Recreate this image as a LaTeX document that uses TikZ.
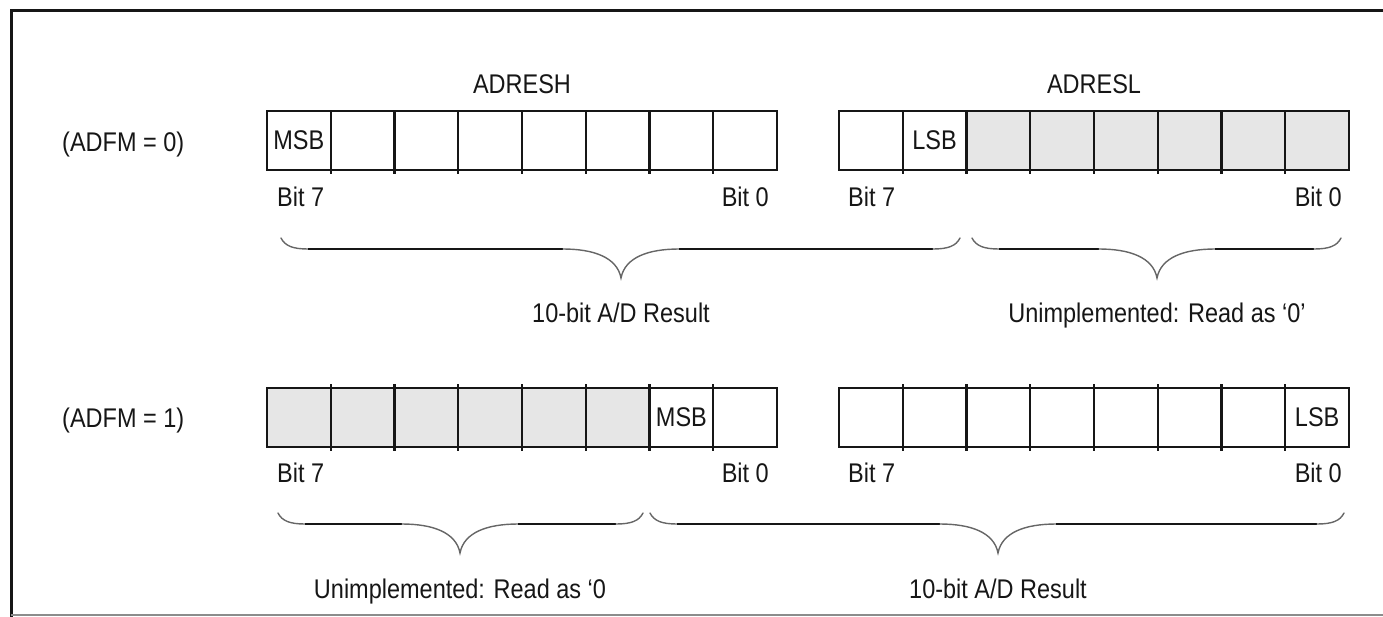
\documentclass[tikz,border=0pt]{standalone}
\usepackage{fontspec}
\setmainfont[FakeStretch=0.87]{Liberation Sans}
\definecolor{cellgray}{RGB}{230,230,230}
\definecolor{ink}{RGB}{22,22,22}

% curly brace: #1 left end, #2 right end, #3 tip x, #4 y of the curled ends
\newcommand\curlybrace[4]{%
  \pgfmathsetmacro\yl{#4+11}%
  \pgfmathsetmacro\yt{#4+40}%
  \draw[bracecurl] (#1,#4) .. controls (#1+4,\yl-3) and (#1+12,\yl) .. (#1+27,\yl);
  \draw[braceflat] (#1+27,\yl) -- (#3-58,\yl);
  \draw[bracecurl] (#3-58,\yl) .. controls (#3-28,\yl) and (#3-4,\yl+8) .. (#3,\yt)
                   .. controls (#3+4,\yl+8) and (#3+28,\yl) .. (#3+58,\yl);
  \draw[braceflat] (#3+58,\yl) -- (#2-27,\yl);
  \draw[bracecurl] (#2-27,\yl) .. controls (#2-12,\yl) and (#2-4,\yl-3) .. (#2,#4);
}

\begin{document}
\begin{tikzpicture}[x=1pt,y=-1pt,
  every node/.style={font=\fontsize{27}{32}\selectfont, text=ink, inner sep=0pt},
  cellnode/.style={minimum width=63.75pt, minimum height=59pt, outer sep=0pt},
  regline/.style={line width=2.4pt, draw=ink},
  frameline/.style={line width=3pt, draw=ink},
  braceflat/.style={line width=2.6pt, draw=ink},
  bracecurl/.style={line width=1.4pt, draw=black!60, line cap=round},
]
\useasboundingbox (0,0) rectangle (1383,616);

% outer frame
\draw[frameline] (11,620) -- (11,10) -- (1395,10);
\draw[line width=2pt, draw=black!45] (11,614.5) -- (1395,614.5);

% ---- ADFM = 0 ----
\node[anchor=base west] (adfm0) at (62,151.5) {(ADFM = 0)};
\node[anchor=base] (adresh) at (522,93.5) {ADRESH};
\node[anchor=base] (adresl) at (1094,93.5) {ADRESL};

\foreach \i/\t/\f in {0/MSB/white,1//white,2//white,3//white,4//white,5//white,6//white,7//white}
  \node[cellnode, fill=\f] (ha\i) at ({267+(\i+0.5)*63.75},140.5) {\t};
\foreach \i/\t/\f in {0//white,1/LSB/white,2//cellgray,3//cellgray,4//cellgray,5//cellgray,6//cellgray,7//cellgray}
  \node[cellnode, fill=\f] (la\i) at ({839+(\i+0.5)*63.75},140.5) {\t};

\draw[regline] (ha0.north west) rectangle (ha7.south east);
\draw[regline] (la0.north west) rectangle (la7.south east);
\foreach \i in {1,...,7}{
  \draw[regline] (ha\i.north west) -- ([yshift=-4pt]ha\i.south west);
  \draw[regline] (la\i.north west) -- ([yshift=-4pt]la\i.south west);
}

\node[anchor=base west] (ha7bit) at (277,206) {Bit 7};
\node[anchor=base east] (ha0bit) at (769,206) {Bit 0};
\node[anchor=base west] (la7bit) at (848,206) {Bit 7};
\node[anchor=base east] (la0bit) at (1342,206) {Bit 0};

\curlybrace{281}{960}{621}{238}
\curlybrace{972}{1341}{1157}{238}

\node[anchor=base] (resA) at (621,322) {10-bit A/D Result};
\node[anchor=base] (unA) at (1157,322) {Unimplemented: Read as `0'};

% ---- ADFM = 1 ----
\node[anchor=base west] (adfm1) at (62,427) {(ADFM = 1)};

\foreach \i/\t/\f in {0//cellgray,1//cellgray,2//cellgray,3//cellgray,4//cellgray,5//cellgray,6/MSB/white,7//white}
  \node[cellnode, fill=\f] (hb\i) at ({267+(\i+0.5)*63.75},417.5) {\t};
\foreach \i/\t/\f in {0//white,1//white,2//white,3//white,4//white,5//white,6//white,7/LSB/white}
  \node[cellnode, fill=\f] (lb\i) at ({839+(\i+0.5)*63.75},417.5) {\t};

\draw[regline] (hb0.north west) rectangle (hb7.south east);
\draw[regline] (lb0.north west) rectangle (lb7.south east);
\foreach \i in {1,...,7}{
  \draw[regline] ([yshift=4pt]hb\i.north west) -- ([yshift=-4pt]hb\i.south west);
  \draw[regline] ([yshift=4pt]lb\i.north west) -- ([yshift=-4pt]lb\i.south west);
}

\node[anchor=base west] (hb7bit) at (277,482) {Bit 7};
\node[anchor=base east] (hb0bit) at (769,482) {Bit 0};
\node[anchor=base west] (lb7bit) at (848,482) {Bit 7};
\node[anchor=base east] (lb0bit) at (1342,482) {Bit 0};

\curlybrace{278}{643}{460}{513}
\curlybrace{650}{1344}{998}{513}

\node[anchor=base] (unB) at (460,598) {Unimplemented: Read as `0};
\node[anchor=base] (resB) at (998,598) {10-bit A/D Result};
\end{tikzpicture}
\end{document}
